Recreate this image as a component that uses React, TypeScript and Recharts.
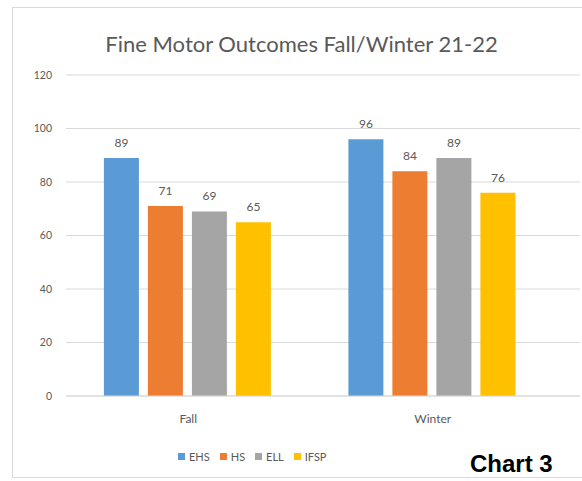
import React from 'react';
import { BarChart, Bar, XAxis, YAxis, CartesianGrid, Legend, LabelList } from 'recharts';

const PERIODS = ['Fall', 'Winter'];
const EHS = [89, 96];
const HS = [71, 84];
const ELL = [69, 89];
const IFSP = [65, 76];
const Y_TICKS = [0, 20, 40, 60, 80, 100, 120];

const SERIES = [
  { key: 'EHS', color: '#5B9BD5' },
  { key: 'HS', color: '#ED7D31' },
  { key: 'ELL', color: '#A5A5A5' },
  { key: 'IFSP', color: '#FFC000' },
];

const data = PERIODS.map((p, i) => ({
  period: p,
  EHS: EHS[i],
  HS: HS[i],
  ELL: ELL[i],
  IFSP: IFSP[i],
}));

const FONT = 'Lato, "Open Sans", sans-serif';
const TEXT = '#595959';

const renderLegend = () => (
  <div style={{ display: 'flex', gap: 10, fontFamily: FONT, fontSize: 11, color: TEXT }}>
    {SERIES.map(s => (
      <div key={s.key} style={{ display: 'flex', alignItems: 'center' }}>
        <span style={{ width: 7, height: 7, background: s.color, display: 'inline-block', marginRight: 4 }} />
        {s.key}
      </div>
    ))}
  </div>
);

export default function App() {
  return (
    <div style={{ position: 'absolute', left: 0, top: 0, width: 582, height: 481, background: '#fff' }}>
      <div
        style={{
          position: 'absolute',
          left: 12,
          top: 7,
          width: 590,
          height: 471,
          border: '1px solid #d9d9d9',
          boxSizing: 'border-box',
        }}
      />
      <div
        style={{
          position: 'absolute',
          left: 90,
          width: 423,
          top: 30,
          textAlign: 'center',
          fontFamily: FONT,
          fontSize: 22,
          color: TEXT,
          whiteSpace: 'nowrap',
        }}
      >
        Fine Motor Outcomes Fall/Winter 21-22
      </div>
      <BarChart
        width={582}
        height={481}
        data={data}
        margin={{ top: 75, right: 2, bottom: 44, left: 26 }}
        barCategoryGap="15.5%"
        barGap={9}
        style={{ position: 'absolute', left: 0, top: 0 }}
      >
        <CartesianGrid vertical={false} stroke="#d9d9d9" />
        <XAxis
          dataKey="period"
          height={25}
          padding={{ left: 0, right: 25 }}
          tickLine={false}
          tickSize={0}
          tickMargin={18}
          axisLine={{ stroke: '#d9d9d9' }}
          tick={{ fill: TEXT, fontSize: 12, fontFamily: FONT }}
        />
        <YAxis
          width={40}
          domain={[0, 120]}
          ticks={Y_TICKS}
          tickLine={false}
          tickSize={0}
          tickMargin={14}
          axisLine={false}
          tick={{ fill: TEXT, fontSize: 10.5, fontFamily: FONT }}
        />
        <Legend
          content={renderLegend}
          wrapperStyle={{ position: 'absolute', top: 450, left: 178, bottom: 'auto', width: 'auto', height: 16 }}
        />
        {SERIES.map(s => (
          <Bar key={s.key} dataKey={s.key} fill={s.color} isAnimationActive={false}>
            <LabelList dataKey={s.key} position="top" offset={11} fill={TEXT} fontSize={12} fontFamily={FONT} />
          </Bar>
        ))}
      </BarChart>
      <div
        style={{
          position: 'absolute',
          left: 470,
          top: 450,
          fontFamily: '"Liberation Sans", Arial, sans-serif',
          fontWeight: 'bold',
          fontSize: 24,
          color: '#000',
          whiteSpace: 'nowrap',
        }}
      >
        Chart 3
      </div>
    </div>
  );
}
